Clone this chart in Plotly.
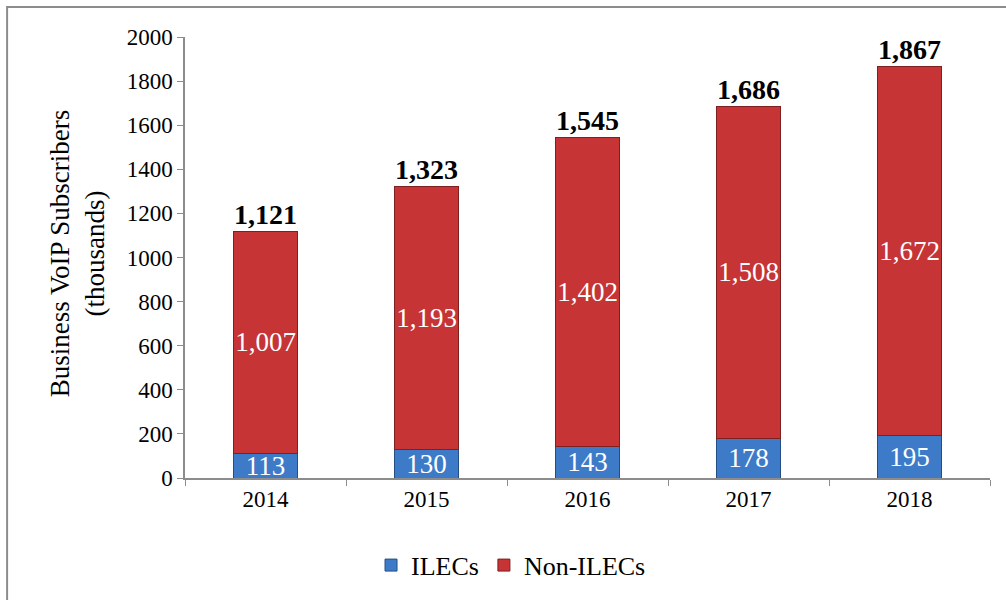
"""Florida business interconnected VoIP subscribers, stacked bars by carrier type."""
import plotly.graph_objects as go

YEARS = ["2014", "2015", "2016", "2017", "2018"]
ILECS = [113, 130, 143, 178, 195]
NON_ILECS = [1007, 1193, 1402, 1508, 1672]
TOTALS = [1121, 1323, 1545, 1686, 1867]

SERIF = "Liberation Serif, Times New Roman, serif"
BLUE = "#3D7BC9"
RED = "#C63436"


def fmt(v: int) -> str:
    return f"{v:,}"


fig = go.Figure()
fig.add_trace(
    go.Bar(
        x=YEARS,
        y=ILECS,
        name="ILECs",
        marker={"color": BLUE, "line": {"color": "#244F86", "width": 1}},
        text=[fmt(v) for v in ILECS],
        textposition="inside",
        insidetextanchor="middle",
        textangle=0,
        textfont={"color": "white", "size": 27, "family": SERIF},
        width=0.4,
    )
)
fig.add_trace(
    go.Bar(
        x=YEARS,
        y=NON_ILECS,
        name="Non-ILECs",
        marker={"color": RED, "line": {"color": "#7E1F20", "width": 1}},
        text=[fmt(v) for v in NON_ILECS],
        textposition="inside",
        insidetextanchor="middle",
        textangle=0,
        textfont={"color": "white", "size": 27, "family": SERIF},
        width=0.4,
    )
)
# bold totals above each stack
fig.add_trace(
    go.Scatter(
        x=YEARS,
        y=TOTALS,
        mode="text",
        text=[f"<b>{fmt(v)}</b>" for v in TOTALS],
        textposition="top center",
        textfont={"color": "black", "size": 28, "family": SERIF},
        showlegend=False,
        hoverinfo="skip",
        cliponaxis=False,
    )
)

fig.add_annotation(
    text="Business VoIP Subscribers<br>(thousands)",
    xref="paper", yref="paper",
    x=-0.134, y=0.51,
    xanchor="center", yanchor="middle",
    textangle=-90,
    showarrow=False,
    font={"size": 27, "family": SERIF, "color": "black"},
)
# title sits mostly above the visible frame, as in the source crop
fig.add_annotation(
    text="<b>Florida Business Interconnected VoIP Subscribers</b>",
    xref="paper", yref="paper",
    x=0.48, y=1.069,
    yanchor="bottom",
    showarrow=False,
    font={"size": 30, "family": SERIF, "color": "black"},
)
fig.add_shape(
    type="rect",
    xref="paper", yref="paper",
    x0=-0.221, y0=-0.5, x1=1.2, y1=1.068,
    line={"color": "#8C8C8C", "width": 2},
    layer="below",
)

fig.update_layout(
    width=1006,
    height=600,
    barmode="stack",
    bargap=0.6,
    margin={"l": 185, "r": 16, "t": 37, "b": 121},
    paper_bgcolor="white",
    plot_bgcolor="white",
    font={"family": SERIF, "color": "black", "size": 22},
    uniformtext={"minsize": 27, "mode": "show"},
    showlegend=True,
    legend={
        "orientation": "h",
        "traceorder": "normal",
        "x": 0.405, "xanchor": "center",
        "y": -0.195, "yanchor": "middle",
        "font": {"size": 26, "family": SERIF},
        "itemwidth": 30,
    },
)
fig.update_xaxes(
    showline=True,
    linecolor="#8C8C8C",
    linewidth=1.5,
    ticks="outside",
    tickson="boundaries",
    ticklen=6,
    tickcolor="#8C8C8C",
    tickfont={"size": 23, "family": SERIF},
    showgrid=False,
)
fig.update_yaxes(
    range=[0, 2000],
    dtick=200,
    showline=True,
    linecolor="#8C8C8C",
    linewidth=1.5,
    ticks="outside",
    ticklen=6,
    tickcolor="#8C8C8C",
    tickfont={"size": 23, "family": SERIF},
    showgrid=False,
    zeroline=False,
)

# drop the default 8px page margin so the figure sits at the window corner
fig.write_html(
    "out.html",
    config={"displayModeBar": False},
    post_script="document.body.style.margin='0';",
)
